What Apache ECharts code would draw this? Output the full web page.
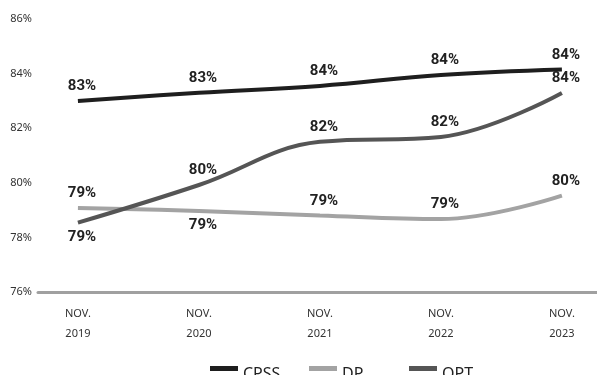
<!DOCTYPE html>
<html>
<head>
<meta charset="utf-8">
<script src="https://cdn.jsdelivr.net/npm/echarts@6/dist/echarts.min.js"></script>
<style>
  html, body { margin: 0; padding: 0; background: #fff; }
  #chart-panel { width: 597px; height: 375px; }
</style>
</head>
<body>
<div id="chart-panel"></div>
<script>
// data
const categories = ["NOV.\n2019", "NOV.\n2020", "NOV.\n2021", "NOV.\n2022", "NOV.\n2023"]
const seriesNames = ["CPSS", "DP", "OPT"]
const cpss = [83.0, 83.3, 83.55, 83.95, 84.15]
const dp = [79.08, 78.97, 78.8, 78.67, 79.53]
const opt = [78.54, 79.92, 81.5, 81.68, 83.29]
const cpssLabels = ["83%", "83%", "84%", "84%", "84%"]
const dpLabels = ["79%", "79%", "79%", "79%", "80%"]
const optLabels = ["79%", "80%", "82%", "82%", "84%"]
const yTicks = [76, 78, 80, 82, 84, 86]

const chart = echarts.init(document.getElementById("chart-panel"), null, { renderer: "canvas" })

// label above / below each point
const dpPos = ["top", "bottom", "top", "top", "top"]
const optPos = ["bottom", "top", "top", "top", "top"]
const legendLeft = [210, 309, 409]

const buildData = (values, labels, pos) => {
  return values.map((v, i) => {
    return {
      value: [i, v],
      label: {
        position: pos ? pos[i] : "top",
        formatter: labels[i]
      }
    }
  })
}

const labelStyle = {
  show: true,
  color: "#222",
  fontFamily: "Roboto",
  fontWeight: "bold",
  fontSize: 15,
  distance: 7,
  offset: [4, 0]
}

const makeSeries = (name, values, labels, pos, color) => {
  return {
    name: name,
    type: "line",
    smooth: 0.4,
    symbol: "circle",
    symbolSize: 0.1,
    showSymbol: true,
    lineStyle: { color: color, width: 4 },
    itemStyle: { color: color },
    label: labelStyle,
    data: buildData(values, labels, pos)
  }
}

// one legend per item so the spacing matches the picture
// icon is a bar at the top of a taller box, so it sits above the text centre
const legends = seriesNames.map((n, i) => {
  return {
    left: legendLeft[i],
    top: 366,
    padding: 0,
    itemWidth: 28,
    itemHeight: 17,
    itemGap: 2,
    symbolKeepAspect: false,
    icon: "path://M0,0 H28 V5 H0 Z M0,17 H28 V17.01 H0 Z",
    textStyle: {
      color: "#222",
      fontFamily: "Noto Sans",
      fontSize: 16
    },
    data: [n]
  }
})

const options = {
  animation: false,
  grid: {
    left: 38,
    right: 0,
    top: 19,
    bottom: 83
  },
  legend: legends,
  xAxis: {
    type: "value",
    min: -0.33,
    max: 4.29,
    splitLine: { show: false },
    axisTick: { show: false },
    axisLine: {
      show: true,
      onZero: false,
      lineStyle: { color: "#a0a0a0", width: 3 }
    },
    axisLabel: {
      customValues: [0, 1, 2, 3, 4],
      formatter: (v) => categories[Math.round(v)] || "",
      color: "#333",
      fontFamily: "Noto Sans",
      fontSize: 11,
      lineHeight: 20,
      margin: 12
    }
  },
  yAxis: {
    type: "value",
    min: 76,
    max: 86,
    interval: 2,
    axisLine: { show: false },
    axisTick: { show: false },
    splitLine: { show: false },
    axisLabel: {
      formatter: (v) => (yTicks.indexOf(v) >= 0 ? v + "%" : ""),
      color: "#333",
      fontFamily: "Noto Sans",
      fontSize: 11,
      margin: 6
    }
  },
  series: [
    makeSeries("CPSS", cpss, cpssLabels, null, "#1e1e1e"),
    makeSeries("DP", dp, dpLabels, dpPos, "#a3a3a3"),
    makeSeries("OPT", opt, optLabels, optPos, "#555555")
  ]
}
chart.setOption(options)
</script>
</body>
</html>
